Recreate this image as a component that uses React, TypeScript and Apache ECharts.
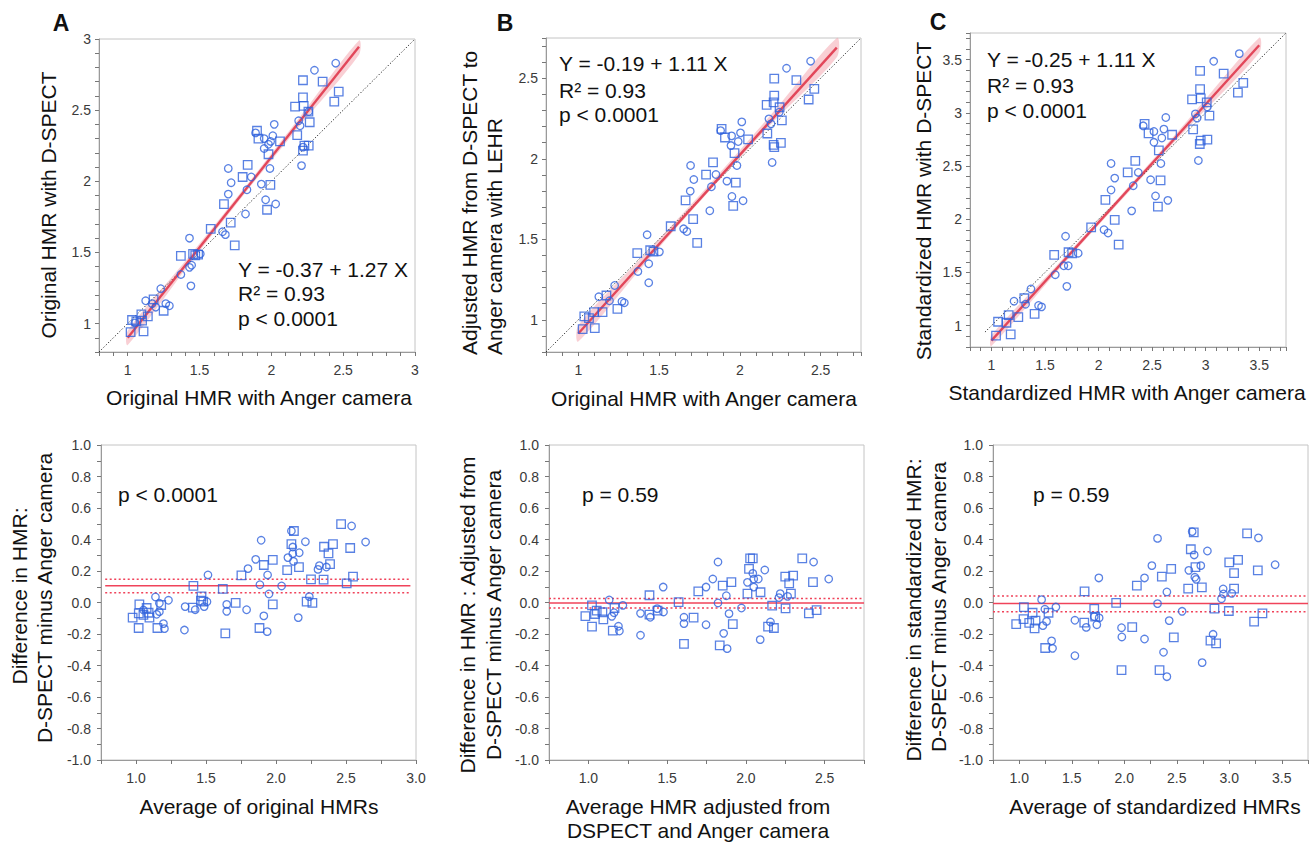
import React, { useEffect, useRef } from "react";
import * as echarts from "echarts";

// ---------- DATA ----------
// Panel A (top): original HMR, Anger (x) vs D-SPECT (y)
const aTopCircles: number[][] = [[2.448,2.83],[2.30,2.78],[2.26,2.49],[2.19,2.425],[2.20,2.39],[2.02,2.40],[2.01,2.32],[1.89,2.34],[1.95,2.30],[1.995,2.28],[1.98,2.26],[1.95,2.23],[2.22,2.24],[2.21,2.11],[1.70,2.09],[1.99,2.09],[1.86,2.03],[1.72,1.99],[1.93,1.98],[1.83,1.94],[1.70,1.91],[1.96,1.87],[2.03,1.84],[1.82,1.77],[1.66,1.645],[1.68,1.625],[1.43,1.60],[1.505,1.49],[1.445,1.41],[1.43,1.395],[1.37,1.345],[1.44,1.265],[1.23,1.245],[1.125,1.16],[1.17,1.14],[1.195,1.115],[1.265,1.14],[1.29,1.125],[1.05,1.005]];
const aTopSquares: number[][] = [[2.22,2.71],[2.357,2.70],[2.469,2.63],[2.22,2.59],[2.438,2.56],[2.165,2.525],[2.225,2.53],[2.258,2.49],[2.267,2.415],[2.18,2.325],[1.90,2.355],[1.91,2.30],[2.06,2.28],[1.98,2.19],[2.23,2.25],[2.26,2.25],[2.22,2.215],[1.835,2.115],[1.80,2.03],[1.993,1.975],[1.67,1.84],[1.97,1.80],[1.717,1.71],[1.745,1.55],[1.578,1.665],[1.37,1.475],[1.455,1.49],[1.47,1.48],[1.49,1.485],[1.18,1.17],[1.25,1.09],[1.14,1.05],[1.095,1.065],[1.03,1.025],[1.06,1.015],[1.10,1.02],[1.02,0.94],[1.11,0.945]];
const aFitX = [1.0, 2.61];
const aFitY = [0.90, 2.945];
const aBandX = [1.0, 1.4, 1.8, 2.2, 2.61];
const aBandLo = [0.85, 1.378, 1.894, 2.394, 2.89];
const aBandHi = [0.95, 1.438, 1.938, 2.454, 2.99];
const aIdentX = [0.8, 3.0];
const aTopTickLabels = ["1", "1.5", "2", "2.5", "3"];

// Panel B (top): adjusted HMR
const bTopCircles: number[][] = [[2.438,2.606],[2.289,2.562],[2.244,2.289],[2.18,2.248],[2.193,2.217],[2.012,2.229],[1.881,2.175],[1.949,2.142],[2.004,2.161],[1.99,2.107],[1.945,2.082],[2.20,1.977],[1.695,1.958],[1.982,1.958],[1.852,1.902],[1.715,1.871],[1.92,1.861],[1.824,1.826],[1.693,1.799],[1.951,1.766],[2.02,1.739],[1.814,1.677],[1.652,1.565],[1.672,1.548],[1.426,1.528],[1.502,1.422],[1.436,1.348],[1.369,1.30],[1.436,1.23],[1.225,1.213],[1.127,1.143],[1.193,1.118],[1.27,1.114],[1.285,1.106]];
const bTopSquares: number[][] = [[2.213,2.498],[2.35,2.488],[2.461,2.434],[2.213,2.392],[2.426,2.368],[2.166,2.335],[2.209,2.35],[2.246,2.32],[2.26,2.239],[1.887,2.186],[1.908,2.132],[2.051,2.121],[2.17,2.157],[2.209,2.086],[2.254,2.099],[2.213,2.072],[1.967,2.035],[1.834,1.977],[1.791,1.902],[1.975,1.852],[1.664,1.741],[1.959,1.708],[1.711,1.625],[1.736,1.478],[1.572,1.581],[1.365,1.414],[1.445,1.432],[1.465,1.424],[1.174,1.151],[1.242,1.068],[1.15,1.048],[1.098,1.048],[1.037,1.021],[1.066,1.01],[1.027,0.942],[1.102,0.948]];
const bFitX = [1.0, 2.6];
const bFitY = [0.915, 2.69];
const bBandX = [1.0, 1.4, 1.8, 2.2, 2.6];
const bBandLo = [0.865, 1.334, 1.788, 2.222, 2.63];
const bBandHi = [0.965, 1.394, 1.828, 2.282, 2.75];
const bIdentX = [0.8, 2.75];
const bTopTickLabels = ["1", "1.5", "2", "2.5"];

// Panel C (top): standardized HMR
const cTopCircles: number[][] = [[3.314,3.556],[3.075,3.484],[3.016,3.055],[2.904,2.99],[2.92,2.95],[2.628,2.956],[2.417,2.878],[2.517,2.825],[2.61,2.847],[2.591,2.763],[2.517,2.723],[2.932,2.552],[2.117,2.524],[2.582,2.524],[2.371,2.44],[2.151,2.387],[2.486,2.371],[2.324,2.315],[2.117,2.275],[2.532,2.219],[2.647,2.178],[2.309,2.079],[2.051,1.902],[2.089,1.871],[1.81,1.681],[1.692,1.84],[1.717,1.563],[1.676,1.563],[1.596,1.479],[1.704,1.37],[1.369,1.345],[1.211,1.23],[1.319,1.202],[1.44,1.19],[1.468,1.177]];
const cTopSquares: number[][] = [[2.948,3.394],[3.168,3.369],[3.351,3.282],[2.948,3.223],[3.301,3.189],[2.873,3.127],[2.954,3.136],[3.01,3.099],[3.035,2.974],[2.43,2.897],[2.467,2.807],[2.687,2.794],[2.883,2.844],[2.954,2.738],[3.016,2.748],[2.945,2.707],[2.563,2.648],[2.343,2.549],[2.272,2.44],[2.579,2.365],[2.554,2.119],[2.151,1.995],[2.064,2.182],[2.188,1.762],[1.931,1.923],[1.586,1.665],[1.72,1.69],[1.754,1.681],[1.307,1.258],[1.403,1.112],[1.251,1.081],[1.161,1.10],[1.062,1.037],[1.14,1.028],[1.043,0.907],[1.18,0.919]];
const cFitX = [1.0, 3.5];
const cFitY = [0.86, 3.635];
const cBandX = [1.0, 1.6, 2.2, 2.8, 3.5];
const cBandLo = [0.81, 1.496, 2.167, 2.823, 3.565];
const cBandHi = [0.91, 1.556, 2.217, 2.893, 3.705];
const cIdentX = [0.94, 3.75];
const cTopTickLabels = ["1", "1.5", "2", "2.5", "3", "3.5"];

// Bland-Altman panels (bottom)
const aBotCircles: number[][] = [[2.54,0.486],[2.64,0.384],[1.894,0.395],[2.11,0.454],[2.21,0.386],[2.12,0.352],[2.166,0.316],[2.12,0.31],[2.125,0.261],[2.085,0.285],[1.855,0.274],[1.80,0.215],[2.31,0.234],[2.30,0.21],[2.36,0.225],[1.514,0.175],[1.94,0.175],[1.885,0.113],[2.04,0.105],[1.95,0.054],[1.139,0.035],[2.238,0.037],[1.232,0.014],[1.507,0.005],[1.167,-0.005],[1.648,-0.012],[1.351,-0.026],[1.487,-0.026],[1.423,-0.046],[1.053,-0.048],[1.167,-0.058],[1.648,-0.056],[1.79,-0.046],[1.148,-0.075],[1.913,-0.085],[2.159,-0.096],[1.196,-0.134],[1.203,-0.166],[1.346,-0.175],[1.937,-0.185]];
const aBotSquares: number[][] = [[2.465,0.498],[2.128,0.454],[2.11,0.371],[2.343,0.354],[2.407,0.371],[2.53,0.346],[2.375,0.312],[1.977,0.27],[1.913,0.238],[2.08,0.206],[2.164,0.225],[2.386,0.244],[1.753,0.172],[2.25,0.147],[2.34,0.145],[2.55,0.164],[2.505,0.122],[1.41,0.105],[1.62,0.086],[1.468,0.039],[1.464,0.012],[1.48,0.005],[2.219,0.005],[2.26,-0.003],[1.024,-0.012],[1.18,-0.016],[1.712,-0.003],[1.977,-0.012],[1.406,-0.033],[1.076,-0.035],[1.09,-0.065],[1.02,-0.069],[1.053,-0.079],[1.096,-0.096],[0.976,-0.096],[1.019,-0.162],[1.153,-0.162],[1.882,-0.162],[1.638,-0.196]];
const aBotMean = 0.107, aBotUpper = 0.147, aBotLower = 0.062;
const aBotLineX = [0.78, 2.96];

const bBotCircles: number[][] = [[2.43,0.257],[2.526,0.149],[1.823,0.257],[2.12,0.206],[2.044,0.185],[1.79,0.149],[2.079,0.149],[2.05,0.149],[2.01,0.128],[1.747,0.098],[1.475,0.098],[2.05,0.098],[1.876,0.043],[2.218,0.056],[2.265,0.039],[2.21,0.031],[1.132,0.016],[1.823,-0.003],[1.219,-0.018],[1.972,-0.035],[1.437,-0.039],[1.477,-0.06],[1.163,-0.065],[1.331,-0.069],[1.893,-0.071],[1.149,-0.088],[1.393,-0.094],[1.607,-0.094],[1.607,-0.134],[1.747,-0.141],[2.156,-0.124],[1.191,-0.151],[1.197,-0.181],[1.859,-0.196],[1.331,-0.208],[2.091,-0.236],[1.881,-0.293]];
const bBotSquares: number[][] = [[2.358,0.28],[2.027,0.28],[2.044,0.28],[2.02,0.213],[2.25,0.164],[2.30,0.17],[1.908,0.13],[2.426,0.13],[1.853,0.107],[2.275,0.122],[1.698,0.071],[2.093,0.065],[2.01,0.056],[2.286,0.056],[1.388,0.046],[1.573,0.003],[1.023,-0.018],[2.167,-0.02],[2.252,-0.037],[1.166,-0.035],[1.053,-0.052],[1.439,-0.052],[1.089,-0.062],[1.388,-0.077],[1.042,-0.073],[2.40,-0.069],[2.449,-0.048],[0.981,-0.086],[1.668,-0.096],[1.095,-0.107],[1.917,-0.137],[2.141,-0.153],[2.178,-0.162],[1.023,-0.153],[1.155,-0.179],[1.607,-0.263],[1.834,-0.272]];
const bBotMean = -0.003, bBotUpper = 0.026, bBotLower = -0.035;
const bBotLineX = [0.75, 2.75];

const cBotCircles: number[][] = [[3.278,0.41],[3.437,0.24],[2.317,0.407],[2.647,0.45],[2.792,0.327],[2.666,0.302],[2.263,0.234],[2.729,0.234],[2.615,0.204],[2.193,0.156],[1.758,0.156],[2.672,0.16],[2.685,0.147],[2.942,0.086],[2.406,0.067],[3.024,0.058],[2.945,0.054],[2.926,0.024],[1.213,0.018],[2.317,-0.007],[1.349,-0.029],[1.244,-0.043],[2.551,-0.056],[1.714,-0.09],[1.761,-0.098],[1.53,-0.113],[1.26,-0.12],[2.428,-0.115],[1.225,-0.147],[1.638,-0.158],[1.739,-0.141],[1.974,-0.16],[1.977,-0.219],[2.846,-0.202],[2.193,-0.232],[1.308,-0.244],[1.317,-0.291],[2.374,-0.316],[1.53,-0.338],[2.742,-0.382],[2.406,-0.471]];
const cBotSquares: number[][] = [[3.17,0.439],[2.662,0.445],[2.634,0.338],[3.0,0.255],[3.084,0.27],[2.678,0.225],[2.447,0.213],[3.272,0.204],[3.046,0.187],[2.358,0.164],[2.12,0.107],[2.739,0.096],[2.609,0.088],[3.046,0.088],[1.622,0.071],[1.923,-0.003],[1.044,-0.029],[1.714,-0.041],[2.859,-0.039],[2.996,-0.054],[1.127,-0.065],[1.279,-0.065],[1.723,-0.09],[1.041,-0.105],[1.155,-0.115],[1.619,-0.128],[3.316,-0.069],[3.237,-0.122],[0.971,-0.137],[1.095,-0.13],[2.076,-0.156],[1.146,-0.164],[2.472,-0.221],[2.821,-0.242],[2.875,-0.259],[1.247,-0.289],[1.974,-0.429],[2.336,-0.429]];
const cBotMean = -0.007, cBotUpper = 0.041, cBotLower = -0.058;
const cBotLineX = [0.75, 3.75];

const botYTickLabels = ["-1.0", "-0.8", "-0.6", "-0.4", "-0.2", "0.0", "0.2", "0.4", "0.6", "0.8", "1.0"];
const aBotXTickLabels = ["1.0", "1.5", "2.0", "2.5", "3.0"];
const bBotXTickLabels = ["1.0", "1.5", "2.0", "2.5"];
const cBotXTickLabels = ["1.0", "1.5", "2.0", "2.5", "3.0", "3.5"];

// ---------- STYLE ----------
const FONT = "Liberation Sans, Arial, Helvetica, sans-serif";
const BLUE = "#2f62dc";
const RED = "#e2475a";
const BAND = "rgba(244,160,170,0.5)";

const labelFmt = (labels: string[]) => (v: number) => {
  const hit = labels.find((s) => Math.abs(parseFloat(s) - v) < 1e-6);
  return hit !== undefined ? hit : "";
};

function makeAxis(gridIndex: number, min: number, max: number, interval: number, labels: string[], margin: number) {
  return {
    type: "value",
    gridIndex,
    min,
    max,
    interval,
    axisLine: { show: true, onZero: false, lineStyle: { color: "#9a9a9a", width: 1 } },
    axisTick: { show: true, length: 4, lineStyle: { color: "#777", width: 1 } },
    splitLine: { show: false },
    axisLabel: { formatter: labelFmt(labels), fontSize: 14, color: "#3a3a3a", fontFamily: FONT, margin, showMinLabel: true, showMaxLabel: true },
  };
}

function scatterPair(idx: number, circles: number[][], squares: number[][]) {
  const common = {
    type: "scatter",
    xAxisIndex: idx,
    yAxisIndex: idx,
    z: 5,
    itemStyle: { color: "rgba(0,0,0,0)", borderColor: BLUE, borderWidth: 1.3 },
  };
  return [
    { ...common, symbol: "circle", symbolSize: 7.5, data: circles },
    { ...common, symbol: "rect", symbolSize: 8.5, data: squares },
  ];
}

function topSeries(idx: number, circles: number[][], squares: number[][], fitX: number[], fitY: number[], bx: number[], lo: number[], hi: number[], identX: number[]) {
  return [
    {
      type: "custom",
      xAxisIndex: idx,
      yAxisIndex: idx,
      z: 1,
      data: [[bx[0], lo[0]]],
      renderItem: (_p: any, api: any) => {
        const up = bx.map((x, i) => api.coord([x, hi[i]]));
        const dn = bx.map((x, i) => api.coord([x, lo[i]])).reverse();
        return { type: "polygon", shape: { points: up.concat(dn), smooth: 0.3 }, style: { fill: BAND } };
      },
    },
    {
      type: "line",
      xAxisIndex: idx,
      yAxisIndex: idx,
      z: 2,
      symbol: "none",
      data: identX.map((x) => [x, x]),
      lineStyle: { color: "#222", width: 1, type: [1.2, 2] },
    },
    {
      type: "line",
      xAxisIndex: idx,
      yAxisIndex: idx,
      z: 3,
      symbol: "none",
      data: fitX.map((x, i) => [x, fitY[i]]),
      lineStyle: { color: RED, width: 2.4 },
    },
    ...scatterPair(idx, circles, squares),
  ];
}

function botSeries(idx: number, circles: number[][], squares: number[][], lineX: number[], mean: number, upper: number, lower: number) {
  const hline = (y: number, dotted: boolean) => ({
    type: "line",
    xAxisIndex: idx,
    yAxisIndex: idx,
    z: 2,
    symbol: "none",
    data: lineX.map((x) => [x, y]),
    lineStyle: { color: "#f0435a", width: 1.5, type: dotted ? [2, 2.5] : "solid" },
  });
  return [hline(mean, false), hline(upper, true), hline(lower, true), ...scatterPair(idx, circles, squares)];
}

function txt(x: number, y: number, text: string, opts: any = {}) {
  return {
    type: "text",
    x,
    y,
    rotation: opts.rotation || 0,
    style: {
      text,
      fill: "#111",
      font: `${opts.weight || "normal"} ${opts.size || 21}px ${FONT}`,
      textAlign: opts.align || "left",
      textVerticalAlign: "middle",
    },
  };
}

const V = Math.PI / 2;

export default function App() {
  const ref = useRef<HTMLDivElement>(null);
  useEffect(() => {
    document.body.style.margin = "0";
    const chart = echarts.init(ref.current!, undefined, { renderer: "svg" });
    const gridBase = { show: true, borderColor: "#c4c4c4", borderWidth: 1, backgroundColor: "transparent", containLabel: false };
    const option: any = {
      animation: false,
      backgroundColor: "#fff",
      grid: [
        { ...gridBase, left: 99, top: 39, width: 316, height: 313 },
        { ...gridBase, left: 546, top: 38, width: 315, height: 314 },
        { ...gridBase, left: 970, top: 33, width: 316, height: 314 },
        { ...gridBase, left: 101, top: 445, width: 315, height: 315 },
        { ...gridBase, left: 549, top: 445, width: 315, height: 315 },
        { ...gridBase, left: 993, top: 445, width: 315, height: 315 },
      ],
      xAxis: [
        makeAxis(0, 0.8, 3.0, 0.1, aTopTickLabels, 11),
        makeAxis(1, 0.8, 2.75, 0.1, bTopTickLabels, 11),
        makeAxis(2, 0.8, 3.75, 0.1, cTopTickLabels, 11),
        makeAxis(3, 0.75, 3.0, 0.25, aBotXTickLabels, 11),
        makeAxis(4, 0.75, 2.75, 0.25, bBotXTickLabels, 11),
        makeAxis(5, 0.75, 3.75, 0.25, cBotXTickLabels, 11),
      ],
      yAxis: [
        makeAxis(0, 0.8, 3.0, 0.1, aTopTickLabels, 8),
        makeAxis(1, 0.8, 2.75, 0.1, bTopTickLabels, 8),
        makeAxis(2, 0.8, 3.75, 0.1, cTopTickLabels, 8),
        makeAxis(3, -1, 1, 0.1, botYTickLabels, 10),
        makeAxis(4, -1, 1, 0.1, botYTickLabels, 10),
        makeAxis(5, -1, 1, 0.1, botYTickLabels, 10),
      ],
      series: [
        ...topSeries(0, aTopCircles, aTopSquares, aFitX, aFitY, aBandX, aBandLo, aBandHi, aIdentX),
        ...topSeries(1, bTopCircles, bTopSquares, bFitX, bFitY, bBandX, bBandLo, bBandHi, bIdentX),
        ...topSeries(2, cTopCircles, cTopSquares, cFitX, cFitY, cBandX, cBandLo, cBandHi, cIdentX),
        ...botSeries(3, aBotCircles, aBotSquares, aBotLineX, aBotMean, aBotUpper, aBotLower),
        ...botSeries(4, bBotCircles, bBotSquares, bBotLineX, bBotMean, bBotUpper, bBotLower),
        ...botSeries(5, cBotCircles, cBotSquares, cBotLineX, cBotMean, cBotUpper, cBotLower),
      ],
      graphic: [
        // panel letters
        txt(61, 23, "A", { weight: "bold", size: 23, align: "center" }),
        txt(505, 23, "B", { weight: "bold", size: 23, align: "center" }),
        txt(938, 22, "C", { weight: "bold", size: 23, align: "center" }),
        // A top
        txt(238, 269, "Y = -0.37 + 1.27 X"),
        txt(238, 293, "R² = 0.93"),
        txt(238, 318, "p < 0.0001"),
        txt(259, 397, "Original HMR with Anger camera", { align: "center" }),
        txt(48, 205, "Original HMR with D-SPECT", { align: "center", rotation: V }),
        // B top
        txt(559, 63, "Y = -0.19 + 1.11 X"),
        txt(559, 90, "R² = 0.93"),
        txt(559, 114, "p < 0.0001"),
        txt(704, 398, "Original HMR with Anger camera", { align: "center" }),
        txt(469, 355, "Adjusted HMR from D-SPECT to", { align: "left", rotation: V }),
        txt(494, 355, "Anger camera with LEHR", { align: "left", rotation: V }),
        // C top
        txt(987, 59, "Y = -0.25 + 1.11 X"),
        txt(987, 85, "R² = 0.93"),
        txt(987, 110, "p < 0.0001"),
        txt(1127, 392, "Standardized HMR with Anger camera", { align: "center" }),
        txt(923, 201, "Standardized HMR with D-SPECT", { align: "center", rotation: V }),
        // A bottom
        txt(118, 494, "p < 0.0001"),
        txt(259, 806, "Average of original HMRs", { align: "center" }),
        txt(19, 596, "Difference in HMR:", { align: "center", rotation: V }),
        txt(44, 598, "D-SPECT minus Anger camera", { align: "center", rotation: V }),
        // B bottom
        txt(582, 494, "p = 0.59"),
        txt(698, 806, "Average HMR adjusted from", { align: "center" }),
        txt(698, 830, "DSPECT and Anger camera", { align: "center" }),
        txt(467, 615, "Difference in HMR : Adjusted from", { align: "center", rotation: V }),
        txt(493, 615, "D-SPECT minus Anger camera", { align: "center", rotation: V }),
        // C bottom
        txt(1033, 494, "p = 0.59"),
        txt(1155, 806, "Average of standardized HMRs", { align: "center" }),
        txt(913, 610, "Difference in standardized HMR:", { align: "center", rotation: V }),
        txt(938, 607, "D-SPECT minus Anger camera", { align: "center", rotation: V }),
      ],
    };
    chart.setOption(option);
    return () => chart.dispose();
  }, []);
  return <div ref={ref} style={{ width: 1316, height: 843 }} />;
}
